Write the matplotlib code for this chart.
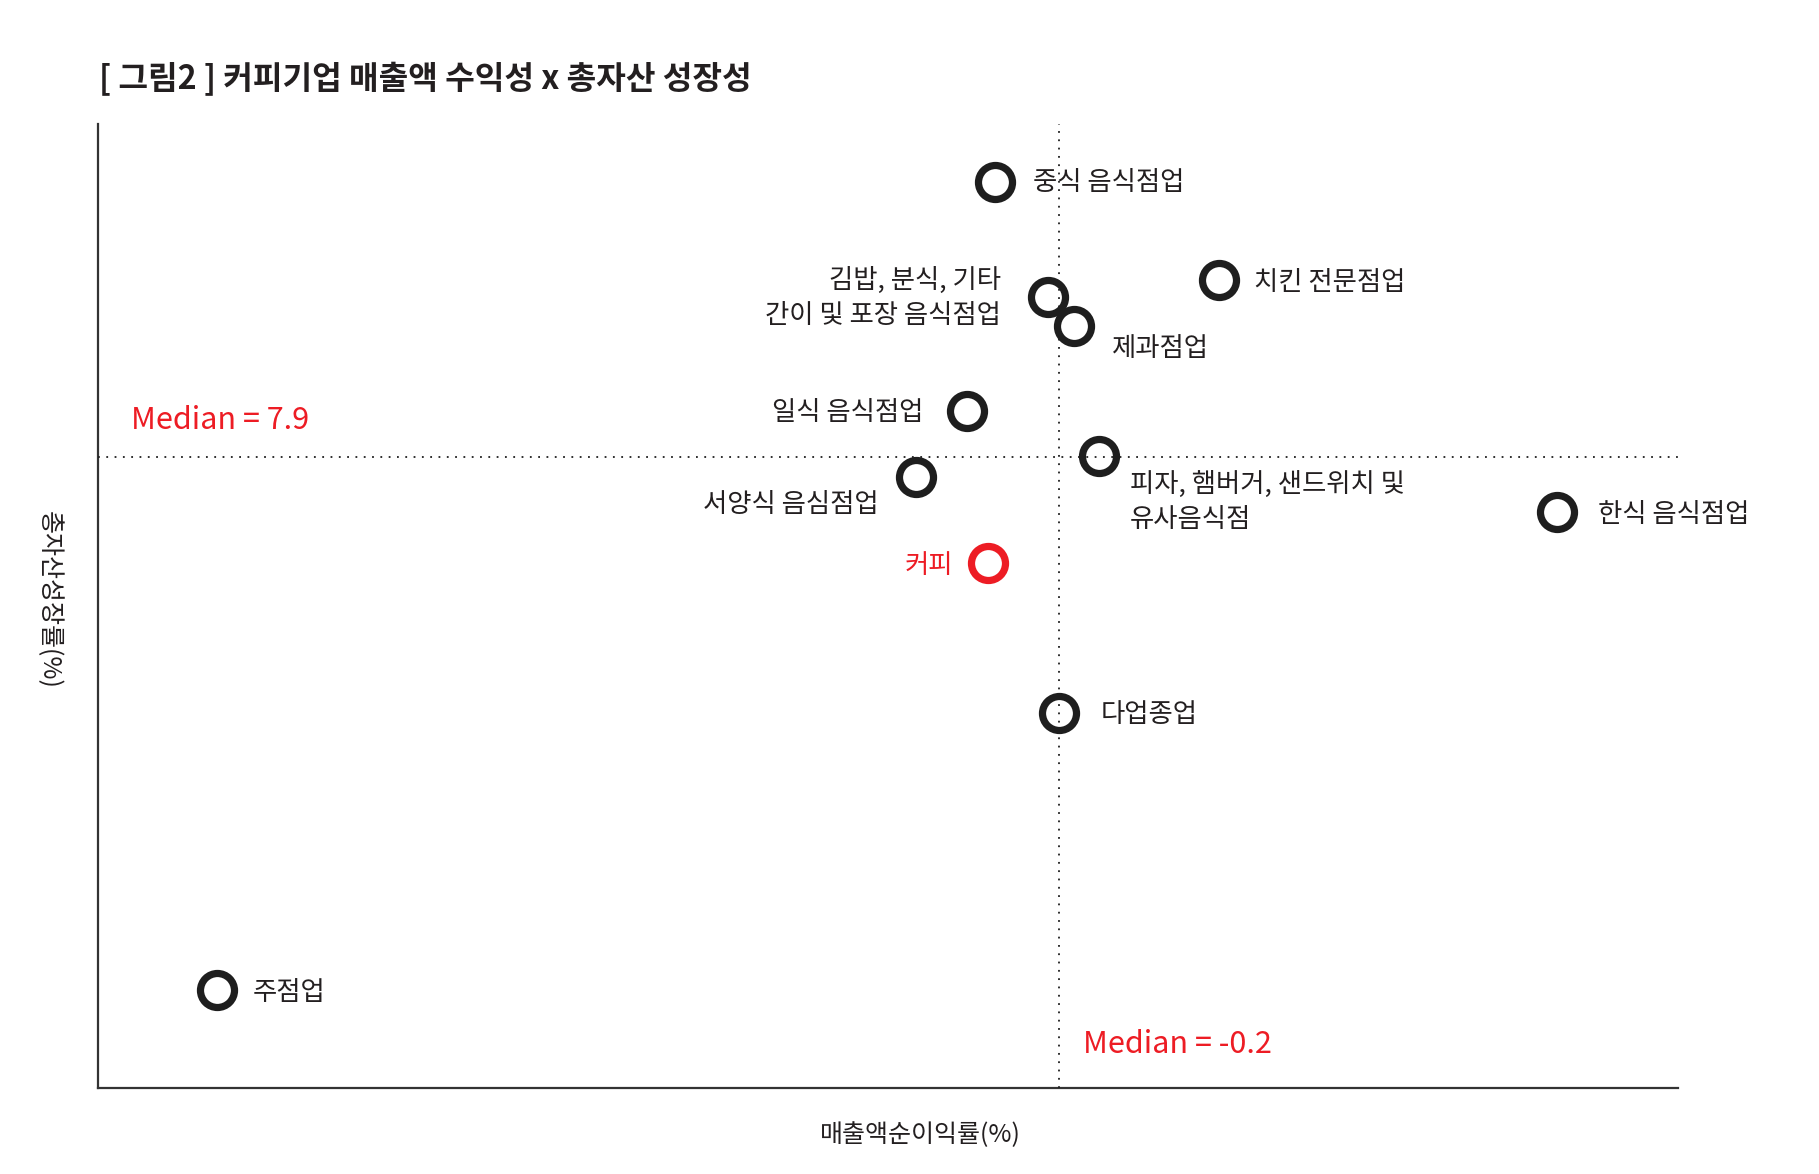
import numpy as np
import matplotlib.pyplot as plt

plt.rcParams['font.family'] = ['Noto Sans CJK KR', 'DejaVu Sans']

# data (axis scale has no ticks, medians fixed)
industries = ['중식 음식점업', '김밥, 분식, 기타\n간이 및 포장 음식점업', '치킨 전문점업', '제과점업',
              '일식 음식점업', '피자, 햄버거, 샌드위치 및\n유사음식점', '서양식 음심점업', '한식 음식점업',
              '커피', '다업종업', '주점업']
profit_margin = [-0.75, -0.29, 1.18, -0.07, -0.99, 0.15, -1.43, 4.09, -0.81, -0.20, -7.45]
asset_growth = [19.75, 14.8, 15.55, 13.55, 9.9, 7.95, 7.05, 5.55, 3.35, -3.1, -15.05]
median_x = -0.2
median_y = 7.9

# label placement (offset points, alignment)
offsets = [(27.6, -0.3), (-34, -0.8), (25, -2), (27.6, -16), (-31.8, -1.2), (21.7, -33),
           (-26.8, -19.4), (29.3, -2), (-25, -2), (30, -1.2), (26, -2)]
aligns = ['left', 'right', 'left', 'left', 'right', 'left', 'right', 'left', 'right', 'left', 'left']

RED = '#ED1C24'
DARK = '#1E1E1E'
TXT = '#231F20'

fig = plt.figure(figsize=(18.19, 11.74), dpi=100)
ax = fig.add_axes([0.054, 0.0733, 0.8683, 0.8209])
ax.set_xlim(-8.473, 5.13)
ax.set_ylim(-19.26, 22.25)

for s in ['top', 'right']:
    ax.spines[s].set_visible(False)
for s in ['left', 'bottom']:
    ax.spines[s].set_linewidth(1.6)
    ax.spines[s].set_color('#333333')
ax.set_xticks([])
ax.set_yticks([])

ax.axvline(median_x, color=DARK, lw=1.3, ls=(0, (1, 3.6)), zorder=3)
ax.axhline(median_y, color=DARK, lw=1.3, ls=(0, (1, 3.6)), zorder=3)

for name, x, y, off, ha in zip(industries, profit_margin, asset_growth, offsets, aligns):
    col = RED if name == '커피' else DARK
    ax.plot(x, y, marker='o', ms=24.5, mfc='none', mec=col, mew=5.2, lw=0, zorder=2)
    ax.annotate(name, (x, y), xytext=off, textcoords='offset points', ha=ha, va='center',
                multialignment=ha, fontsize=19, color=RED if name == '커피' else TXT,
                linespacing=1.38)

ax.annotate(f'Median = {median_y}', (ax.get_xlim()[0], median_y), xytext=(23.7, 26.2),
            textcoords='offset points', ha='left', va='center', fontsize=22, color=RED)
ax.annotate(f'Median = {median_x}', (median_x, ax.get_ylim()[0]), xytext=(17.6, 31.4),
            textcoords='offset points', ha='left', va='center', fontsize=22, color=RED)

fig.text(0.0543, 0.9325, '[ 그림2 ] 커피기업 매출액 수익성 x 총자산 성장성', fontsize=23.2,
         fontweight='bold', color=TXT, ha='left', va='center')
fig.text(0.506, 0.0335, '매출액순이익률(%)', fontsize=18, color=TXT, ha='center', va='center')
fig.text(0.0268, 0.489, '총자산성장률(%)', fontsize=18, color=TXT, ha='center', va='center',
         rotation=270)

fig.savefig('out.png', dpi=100)
